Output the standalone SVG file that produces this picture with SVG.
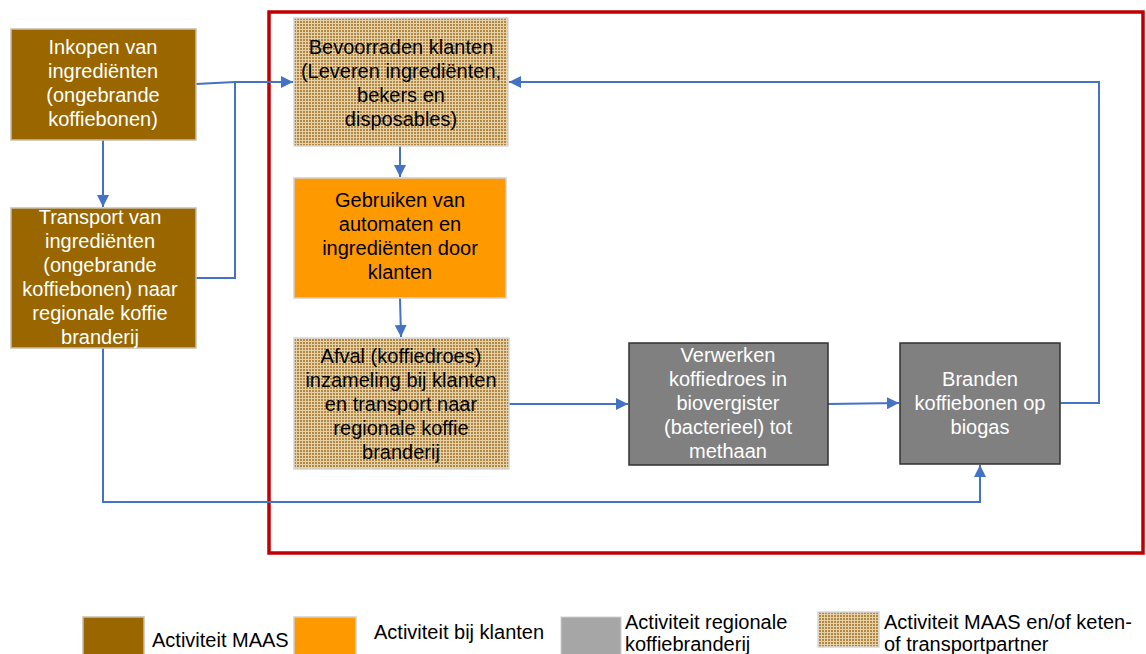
<svg xmlns="http://www.w3.org/2000/svg" width="1146" height="654" viewBox="0 0 1146 654">
<defs>
<pattern id="chk" width="3" height="3" patternUnits="userSpaceOnUse">
<rect width="3" height="3" fill="#e6d2a6"/>
<rect width="2" height="2" fill="#b08745"/>
</pattern>
<marker id="arr" viewBox="0 0 12 12" refX="12" refY="6" markerWidth="12" markerHeight="12" markerUnits="userSpaceOnUse" orient="auto">
<path d="M0,0 L12,6 L0,12 Z" fill="#4472c4"/>
</marker>
<style>
text{font-family:"Liberation Sans",Arial,sans-serif;font-size:20px;text-anchor:middle}
.w{fill:#ffffff}
.b{fill:#000000}
.brown{fill:#996600;stroke:#c8c0b0;stroke-width:1.5}
.orange{fill:#ff9900;stroke:#d0d0d0;stroke-width:1.5}
.pat{fill:url(#chk);stroke:#d8d8d8;stroke-width:1.5}
.gray{fill:#808080;stroke:#303030;stroke-width:1.5}
.con{fill:none;stroke:#4472c4;stroke-width:2}
.lg{text-anchor:start}
</style>
</defs>
<rect width="1146" height="654" fill="#ffffff"/>
<rect x="269" y="12" width="874" height="541" fill="none" stroke="#c00000" stroke-width="3.5"/>

<g id="connectors">
<path class="con" d="M196,84 L235,82 L293,82" marker-end="url(#arr)"/>
<path class="con" d="M196,278 L235,278 L235,82"/>
<path class="con" d="M103,140 L103,207" marker-end="url(#arr)"/>
<path class="con" d="M400,146 L400,177" marker-end="url(#arr)"/>
<path class="con" d="M400,298 L401,337" marker-end="url(#arr)"/>
<path class="con" d="M509,404 L628,404" marker-end="url(#arr)"/>
<path class="con" d="M828,404 L899,403" marker-end="url(#arr)"/>
<path class="con" d="M1060,403 L1099,403 L1099,82 L509,82" marker-end="url(#arr)"/>
<path class="con" d="M103,348 L103,502 L980,502 L980,465" marker-end="url(#arr)"/>
</g>

<g id="inkopen">
<rect class="brown" x="11" y="29" width="185" height="111"/>
<text class="w" x="103" y="54">Inkopen van</text>
<text class="w" x="103" y="78">ingrediënten</text>
<text class="w" x="103" y="102">(ongebrande</text>
<text class="w" x="103" y="126">koffiebonen)</text>
</g>

<g id="transport">
<rect class="brown" x="11" y="208" width="185" height="140"/>
<text class="w" x="100" y="224">Transport van</text>
<text class="w" x="100" y="248">ingrediënten</text>
<text class="w" x="100" y="272">(ongebrande</text>
<text class="w" x="100" y="296">koffiebonen) naar</text>
<text class="w" x="100" y="320">regionale koffie</text>
<text class="w" x="100" y="344">branderij</text>
</g>

<g id="bevoorraden">
<rect class="pat" x="294" y="18" width="214" height="128"/>
<text class="b" x="401" y="54">Bevoorraden klanten</text>
<text class="b" x="401" y="78">(Leveren ingrediënten,</text>
<text class="b" x="401" y="102">bekers en</text>
<text class="b" x="401" y="126">disposables)</text>
</g>

<g id="gebruiken">
<rect class="orange" x="294" y="178" width="212" height="120"/>
<text class="b" x="400" y="207">Gebruiken van</text>
<text class="b" x="400" y="231">automaten en</text>
<text class="b" x="400" y="255">ingrediënten door</text>
<text class="b" x="400" y="279">klanten</text>
</g>

<g id="afval">
<rect class="pat" x="294" y="338" width="215" height="131"/>
<text class="b" x="401" y="363">Afval (koffiedroes)</text>
<text class="b" x="401" y="387">inzameling bij klanten</text>
<text class="b" x="401" y="411">en transport naar</text>
<text class="b" x="401" y="435">regionale koffie</text>
<text class="b" x="401" y="459">branderij</text>
</g>

<g id="verwerken">
<rect class="gray" x="629" y="343" width="199" height="122"/>
<text class="w" x="728" y="362" textLength="95" lengthAdjust="spacingAndGlyphs">Verwerken</text>
<text class="w" x="728" y="386" textLength="118" lengthAdjust="spacingAndGlyphs">koffiedroes in</text>
<text class="w" x="728" y="410" textLength="103" lengthAdjust="spacingAndGlyphs">biovergister</text>
<text class="w" x="728" y="434" textLength="128" lengthAdjust="spacingAndGlyphs">(bacterieel) tot</text>
<text class="w" x="728" y="458" textLength="78" lengthAdjust="spacingAndGlyphs">methaan</text>
</g>

<g id="branden">
<rect class="gray" x="900" y="343" width="160" height="121"/>
<text class="w" x="980" y="386" textLength="76" lengthAdjust="spacingAndGlyphs">Branden</text>
<text class="w" x="980" y="410" textLength="131" lengthAdjust="spacingAndGlyphs">koffiebonen op</text>
<text class="w" x="980" y="434" textLength="59" lengthAdjust="spacingAndGlyphs">biogas</text>
</g>

<g id="legend">
<rect class="brown" x="83" y="617" width="61" height="40"/>
<text class="b lg" x="152" y="647">Activiteit MAAS</text>
<rect class="orange" x="294" y="617" width="62" height="40"/>
<text class="b lg" x="374" y="639">Activiteit bij klanten</text>
<rect x="561" y="617" width="60" height="40" fill="#a6a6a6" stroke="#d0d0d0" stroke-width="1"/>
<text class="b lg" x="625" y="629">Activiteit regionale</text>
<text class="b lg" x="625" y="651">koffiebranderij</text>
<rect class="pat" x="818" y="612" width="61" height="35"/>
<text class="b lg" x="884" y="629">Activiteit MAAS en/of keten-</text>
<text class="b lg" x="884" y="651">of transportpartner</text>
</g>
</svg>
